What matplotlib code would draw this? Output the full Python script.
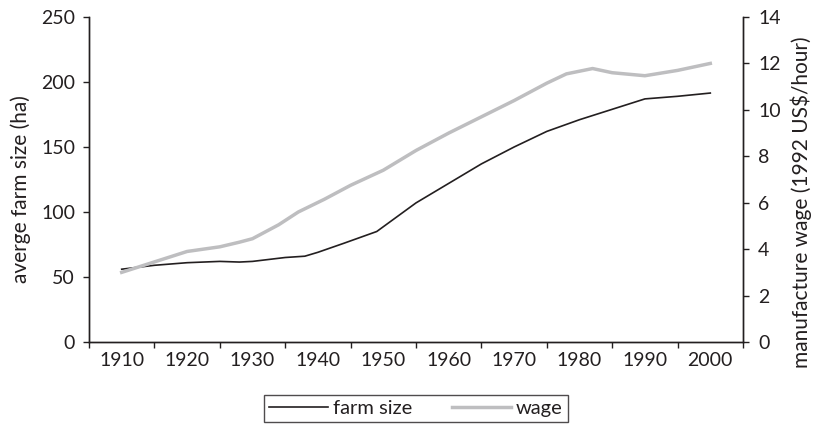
import numpy as np
import matplotlib
matplotlib.use("Agg")
import matplotlib.pyplot as plt
from matplotlib.ticker import MultipleLocator, FixedLocator, NullFormatter

plt.rcParams["font.family"] = ["Lato", "DejaVu Sans"]

ink = "#231f20"
grey = "#bebec0"

# farm size, left axis (ha)
farm_years = [1910, 1915, 1920, 1925, 1928, 1930, 1935, 1938, 1940, 1944, 1949,
              1955, 1960, 1965, 1970, 1975, 1980, 1985, 1990, 1995, 2000]
farm_size = [56, 59, 61, 62, 61.5, 62, 65, 66, 69, 76, 85,
             107, 122, 137, 150, 162, 171, 179, 187, 189, 191.5]

# manufacture wage, right axis (1992 US$/hour)
wage_years = [1910, 1915, 1920, 1925, 1928, 1930, 1934, 1937, 1941, 1945, 1950,
              1955, 1960, 1965, 1970, 1975, 1978, 1982, 1985, 1990, 1995, 2000]
wage = [3.0, 3.45, 3.9, 4.1, 4.3, 4.45, 5.05, 5.6, 6.15, 6.75, 7.4,
        8.25, 9.0, 9.7, 10.4, 11.15, 11.55, 11.78, 11.6, 11.47, 11.7, 12.0]

decade_labels = [str(y) for y in range(1910, 2001, 10)]

fig = plt.figure(figsize=(8.14, 4.29), dpi=100)
ax = fig.add_axes([89 / 814, 87 / 429, 654 / 814, 325 / 429])
ax2 = ax.twinx()

l1, = ax.plot(farm_years, farm_size, color=ink, lw=1.2, label="farm size")
l2, = ax2.plot(wage_years, wage, color=grey, lw=2.5, label="wage")

ax.set_xlim(1905, 2005)
ax.set_ylim(0, 250)
ax2.set_ylim(0, 14)

# category style x axis: ticks between decades, labels centred
ax.xaxis.set_major_locator(MultipleLocator(10, offset=5))
ax.xaxis.set_major_formatter(NullFormatter())
ax.xaxis.set_minor_locator(FixedLocator(range(1910, 2001, 10)))
ax.set_xticklabels(decade_labels, minor=True)
ax.tick_params(axis="x", which="major", direction="out", length=4, width=1, color=ink)
ax.tick_params(axis="x", which="minor", length=0, pad=7, labelsize=14, labelcolor=ink)

ax.yaxis.set_major_locator(MultipleLocator(50))
ax2.yaxis.set_major_locator(MultipleLocator(2))
ax.tick_params(axis="y", direction="out", length=4, width=1, color=ink,
               pad=6, labelsize=14, labelcolor=ink)
ax2.tick_params(axis="y", direction="out", length=4, width=1, color=ink,
                pad=7, labelsize=14, labelcolor=ink)

for a in (ax, ax2):
    a.spines["top"].set_visible(False)
    for s in ("left", "right", "bottom"):
        a.spines[s].set_color(ink)
        a.spines[s].set_linewidth(1)

ax.set_ylabel("averge farm size (ha)", fontsize=15, color=ink, labelpad=7)
ax2.set_ylabel("manufacture wage (1992 US$/hour)", fontsize=15, color=ink, labelpad=7)
ax.yaxis.label.set_y(0.47)
ax2.yaxis.label.set_y(0.43)

leg = fig.legend(handles=[l1, l2], loc="upper center",
                 bbox_to_anchor=(416 / 814, 1 - 395 / 429), ncol=2,
                 frameon=True, fancybox=False, edgecolor=ink, fontsize=14.5,
                 handlelength=2.9, columnspacing=2.0, borderaxespad=0,
                 borderpad=0.25, handletextpad=0.25)
leg.get_frame().set_linewidth(1)
for t in leg.get_texts():
    t.set_color(ink)

fig.savefig("out.png", dpi=100)
